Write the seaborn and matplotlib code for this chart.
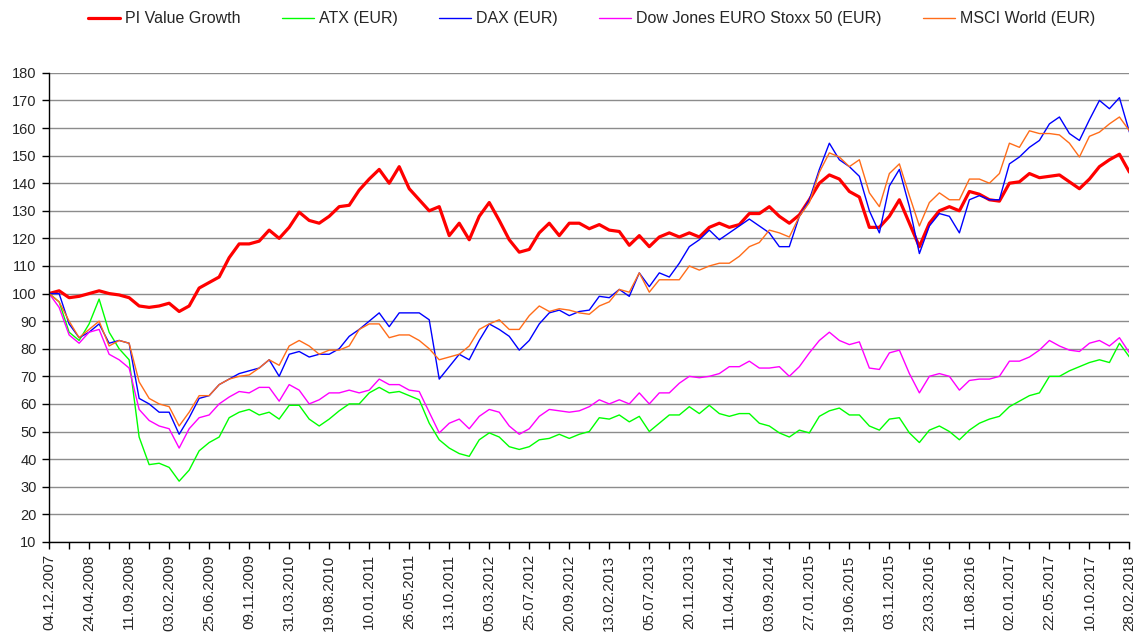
import numpy as np
import matplotlib
matplotlib.use("Agg")
import matplotlib.pyplot as plt
import seaborn as sns

# values every 25 trading days (index 0 .. 2700)
pi_value = [100, 101, 98.5, 99, 100, 101, 100, 99.5, 98.5, 95.5, 95, 95.5, 96.5, 93.5, 95.5, 102, 104, 106, 113, 118,
            118, 119, 123, 120, 124, 129.5, 126.5, 125.5, 128, 131.5, 132, 137.5, 141.5, 145, 140, 146, 138, 134, 130, 131.5,
            121, 125.5, 119.5, 128, 133, 126.5, 119.5, 115, 116, 122, 125.5, 121, 125.5, 125.5, 123.5, 125, 123, 122.5, 117.5, 121,
            117, 120.5, 122, 120.5, 122, 120.5, 124, 125.5, 124, 125, 129, 129, 131.5, 128, 125.5, 128.5, 134, 140, 143, 141.5,
            137, 135, 124, 124, 128, 134, 125.5, 117, 125.5, 130, 131.5, 130, 137, 136, 134, 133.5, 140, 140.5, 143.5, 142,
            142.5, 143, 140.5, 138, 141.5, 146, 148.5, 150.5, 144]
atx = [100, 97, 86, 83, 89, 98, 86, 80, 76, 48, 38, 38.5, 37, 32, 36, 43, 46, 48, 55, 57,
       58, 56, 57, 54.5, 59.5, 59.5, 54.5, 52, 54.5, 57.5, 60, 60, 64, 66, 64, 64.5, 63, 61.5, 53, 47,
       44, 42, 41, 47, 49.5, 48, 44.5, 43.5, 44.5, 47, 47.5, 49, 47.5, 49, 50, 55, 54.5, 56, 53.5, 55.5,
       50, 53, 56, 56, 59, 56.5, 59.5, 56.5, 55.5, 56.5, 56.5, 53, 52, 49.5, 48, 50.5, 49.5, 55.5, 57.5, 58.5,
       56, 56, 52, 50.5, 54.5, 55, 49.5, 46, 50.5, 52, 50, 47, 50.5, 53, 54.5, 55.5, 59, 61, 63, 64,
       70, 70, 72, 73.5, 75, 76, 75, 82, 77]
dax = [100, 100, 89, 84, 86, 89, 82, 83, 82, 62, 60, 57, 57, 49, 55, 62, 63, 67, 69, 71,
       72, 73, 76, 70, 78, 79, 77, 78, 78, 80, 84.5, 87, 90, 93, 88, 93, 93, 93, 90.5, 69,
       73.5, 78, 76, 83, 89, 87, 84.5, 79.5, 83, 89, 93, 94, 92, 93.5, 94, 99, 98.5, 101.5, 99, 107.5,
       102.5, 107.5, 106, 111, 117, 119.5, 123, 119.5, 122, 124.5, 127, 124.5, 122, 117, 117, 128, 134, 145, 154.5, 148.5,
       146, 142.5, 130, 122, 139, 145, 131.5, 114.5, 124.5, 129, 128, 122, 134, 135.5, 134, 134, 147, 149.5, 153, 155.5,
       161.5, 164, 158, 155.5, 163, 170, 167, 171, 158.5]
stoxx50 = [100, 95, 85, 82, 86, 87, 78, 76, 73, 58, 54, 52, 51, 44, 51, 55, 56, 60, 62.5, 64.5,
           64, 66, 66, 61, 67, 65, 60, 61.5, 64, 64, 65, 64, 65, 69, 67, 67, 65, 64.5, 57, 49.5,
           53, 54.5, 51, 55.5, 58, 57, 52, 49, 51, 55.5, 58, 57.5, 57, 57.5, 59, 61.5, 60, 61.5, 60, 64,
           60, 64, 64, 67.5, 70, 69.5, 70, 71, 73.5, 73.5, 75.5, 73, 73, 73.5, 70, 73.5, 78.5, 83, 86, 83,
           81.5, 82.5, 73, 72.5, 78.5, 79.5, 71, 64, 70, 71, 70, 65, 68.5, 69, 69, 70, 75.5, 75.5, 77, 79.5,
           83, 81, 79.5, 79, 82, 83, 81, 84, 78.5]
msci = [100, 97, 90, 84, 87, 90, 81, 83, 82, 68, 62, 60, 59, 52, 57, 63, 63, 67, 69, 70,
        70.5, 73, 76, 74, 81, 83, 81, 78, 79.5, 79.5, 81, 87, 89, 89, 84, 85, 85, 83, 80, 76,
        77, 78, 81, 87, 89, 90.5, 87, 87, 92, 95.5, 93.5, 94.5, 94, 93, 92.5, 95.5, 97, 101.5, 100.5, 107.5,
        100.5, 105, 105, 105, 110, 108.5, 110, 111, 111, 113.5, 117, 118.5, 123, 122, 120.5, 128, 133, 144, 151, 149.5,
        146, 148.5, 136.5, 131.5, 143.5, 147, 135.5, 124.5, 133, 136.5, 134, 134, 141.5, 141.5, 140, 143.5, 154.5, 153, 159, 158,
        158, 157.5, 154.5, 149.5, 157, 158.5, 161.5, 164, 159]

date_labels = ["04.12.2007", "24.04.2008", "11.09.2008", "03.02.2009", "25.06.2009", "09.11.2009", "31.03.2010",
               "19.08.2010", "10.01.2011", "26.05.2011", "13.10.2011", "05.03.2012", "25.07.2012", "20.09.2012",
               "13.02.2013", "05.07.2013", "20.11.2013", "11.04.2014", "03.09.2014", "27.01.2015", "19.06.2015",
               "03.11.2015", "23.03.2016", "11.08.2016", "02.01.2017", "22.05.2017", "10.10.2017", "28.02.2018"]

series = [("PI Value Growth", pi_value, "#ff0000", 2.3),
          ("ATX (EUR)", atx, "#00ff00", 1.0),
          ("DAX (EUR)", dax, "#0000ff", 1.0),
          ("Dow Jones EURO Stoxx 50 (EUR)", stoxx50, "#ff00ff", 1.0),
          ("MSCI World (EUR)", msci, "#ff6d1a", 1.0)]

sns.set_style("white")
plt.rcParams["font.family"] = ["Liberation Sans", "DejaVu Sans"]

fig = plt.figure(figsize=(11.42, 6.39), dpi=100)
ax = fig.add_axes([0.043, 0.152, 0.946, 0.734])

for name, vals, col, lw in series:
    idx = np.arange(len(vals)) * 25
    sns.lineplot(x=idx, y=vals, ax=ax, color=col, linewidth=lw, label=name)

ax.set_ylim(10, 180)
ax.set_yticks(np.arange(10, 181, 10))
ax.set_xlim(0, 2700)
ax.set_xticks(np.arange(len(date_labels)) * 100)
ax.set_xticklabels(date_labels, rotation=90, fontsize=11)
ax.set_xticks(np.arange(0, 2701, 50), minor=True)
ax.yaxis.grid(True, color="#8c8c8c", linewidth=1.0)
ax.set_axisbelow(True)
for s in ["top", "right"]:
    ax.spines[s].set_visible(False)
for s in ["left", "bottom"]:
    ax.spines[s].set_color("black")
    ax.spines[s].set_linewidth(1.0)
ax.tick_params(axis="both", which="both", direction="out", length=5, width=1, color="black",
               bottom=True, left=True)
ax.tick_params(axis="y", labelsize=10.5, pad=4)
ax.tick_params(axis="x", pad=4)

ax.get_legend().remove()
h, l = ax.get_legend_handles_labels()
fig.legend(h, l, loc="upper center", bbox_to_anchor=(0.518, 1.005), ncol=5, frameon=False,
           fontsize=11.5, handlelength=2.0, columnspacing=2.6, handletextpad=0.3)

fig.savefig("out.png", dpi=100)
